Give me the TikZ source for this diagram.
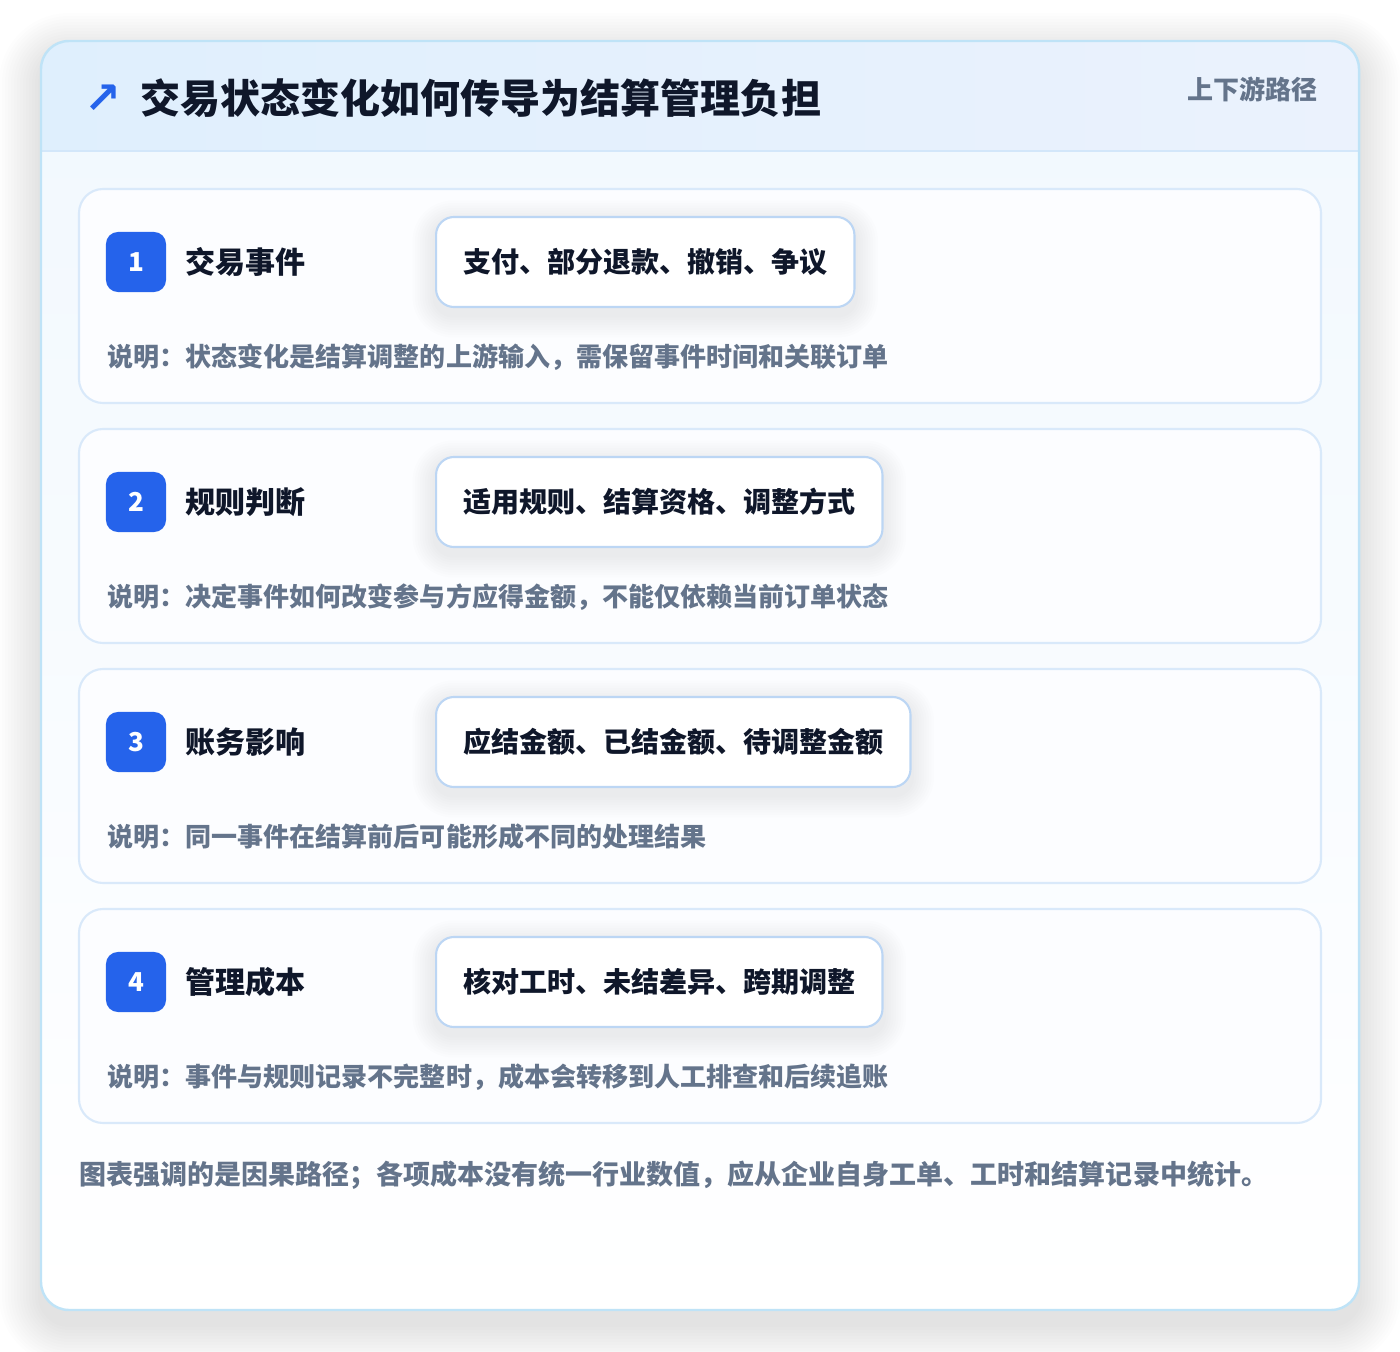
\documentclass[tikz,border=0pt]{standalone}
\usepackage{fontspec}
\setmainfont{Noto Sans CJK SC}
\newfontfamily\symfont{DejaVu Sans}
\usetikzlibrary{positioning}

\definecolor{pagebg}{HTML}{FFFFFF}
\definecolor{outerline}{HTML}{BFE3F7}
\definecolor{bodytop}{HTML}{F1F8FE}
\definecolor{headleft}{HTML}{DFEFFD}
\definecolor{headright}{HTML}{EBF2FD}
\definecolor{headline}{HTML}{D3E7FA}
\definecolor{cardline}{HTML}{D9E9FA}
\definecolor{cardfill}{HTML}{FCFDFF}
\definecolor{pillline}{HTML}{BCD6F4}
\definecolor{badgeblue}{HTML}{2563EB}
\definecolor{ink}{HTML}{0F172A}
\definecolor{slate}{HTML}{64748B}

\pgfdeclarelayer{back}
\pgfdeclarelayer{shade}
\pgfsetlayers{back,shade,main}

% weicher Schatten unter einer Pille
\newcommand\pillshadow[1]{%
	\foreach \k in {1,...,9}
		\fill[black, opacity=0.006, rounded corners=0.18cm+\k*0.025cm]
			([shift={(-\k*2.5,-\k*2.5+7)}]#1.north west) rectangle ([shift={(\k*2.5,\k*2.5+7)}]#1.south east);
}

\begin{document}
\begin{tikzpicture}[x=0.01cm,y=-0.01cm,
	stepcard/.style={draw=cardline, line width=0.6pt, fill=cardfill, rounded corners=0.24cm},
	badge/.style={fill=badgeblue, rounded corners=0.12cm, minimum size=0.6cm, inner sep=0pt,
		text=white, font=\bfseries\fontsize{7.4}{9}\selectfont},
	steptitle/.style={anchor=west, inner sep=0pt, text=ink, font=\bfseries\fontsize{8.54}{10}\selectfont},
	pill/.style={draw=pillline, line width=0.6pt, fill=white, rounded corners=0.18cm,
		minimum height=0.9cm, inner xsep=0.27cm, inner ysep=0pt, anchor=west, text=ink,
		font=\bfseries\fontsize{7.97}{9}\selectfont},
	note/.style={anchor=west, inner sep=0pt, text=slate, font=\bfseries\fontsize{7.4}{9}\selectfont}]
	
	\useasboundingbox (0,0) rectangle (1400,1352);
	
	\begin{pgfonlayer}{back}
		% Hintergrund und Schatten der Karte
		\fill[pagebg] (0,0) rectangle (1400,1352);
		\foreach \k in {1,...,14}
			\fill[black, opacity=0.0065, rounded corners=0.28cm+\k*0.03cm]
				(41-\k*3,41-\k*3+14) rectangle (1359+\k*3,1310+\k*3+14);
		\fill[top color=bodytop, bottom color=white, rounded corners=0.28cm] (41,41) rectangle (1359,1310);
		
		% Kopfzeile
		\begin{scope}
			\clip[rounded corners=0.28cm] (41,41) rectangle (1359,1310); % Karte
			\fill[left color=headleft, right color=headright] (41,41) rectangle (1359,151);
		\end{scope}
		\draw[headline, line width=0.6pt] (41,151) -- (1359,151);
		\draw[outerline, line width=0.7pt, rounded corners=0.28cm] (41,41) rectangle (1359,1310);
		
		% Schrittkarten
		\draw[stepcard] (79,189) rectangle (1321,403);
		\draw[stepcard] (79,429) rectangle (1321,643);
		\draw[stepcard] (79,669) rectangle (1321,883);
		\draw[stepcard] (79,909) rectangle (1321,1123);
	\end{pgfonlayer}
	
	\node[anchor=west, inner sep=0pt, text=ink, font=\bfseries\fontsize{11.38}{13}\selectfont] (title) at (140,98)
		{交易状态变化如何传导为结算管理负担};
	\node[text=badgeblue, inner sep=0pt, font=\symfont\bfseries\fontsize{12.5}{14}\selectfont] (icon) at (103,99) {↗};
	\node[anchor=east, inner sep=0pt, text=slate, font=\bfseries\fontsize{7.4}{9}\selectfont] (tag) at (1318,89) {上下游路径};
	
	% Schritt 1
	\node[badge] (b1) at (136,262) {1};
	\node[steptitle, right=0.18cm of b1] (t1) {交易事件};
	\node[pill] (p1) at (435,262) {支付、部分退款、撤销、争议};
	\node[note] (n1) at (107,357) {说明：状态变化是结算调整的上游输入，需保留事件时间和关联订单};
	
	% Schritt 2
	\node[badge] (b2) at (136,502) {2};
	\node[steptitle, right=0.18cm of b2] (t2) {规则判断};
	\node[pill] (p2) at (435,502) {适用规则、结算资格、调整方式};
	\node[note] (n2) at (107,597) {说明：决定事件如何改变参与方应得金额，不能仅依赖当前订单状态};
	
	% Schritt 3
	\node[badge] (b3) at (136,742) {3};
	\node[steptitle, right=0.18cm of b3] (t3) {账务影响};
	\node[pill] (p3) at (435,742) {应结金额、已结金额、待调整金额};
	\node[note] (n3) at (107,837) {说明：同一事件在结算前后可能形成不同的处理结果};
	
	% Schritt 4
	\node[badge] (b4) at (136,982) {4};
	\node[steptitle, right=0.18cm of b4] (t4) {管理成本};
	\node[pill] (p4) at (435,982) {核对工时、未结差异、跨期调整};
	\node[note] (n4) at (107,1077) {说明：事件与规则记录不完整时，成本会转移到人工排查和后续追账};
	
	% Fusszeile
	\node[note, font=\bfseries\fontsize{7.68}{9}\selectfont] (foot) at (79,1175)
		{图表强调的是因果路径；各项成本没有统一行业数值，应从企业自身工单、工时和结算记录中统计。};
	
	\begin{pgfonlayer}{shade}
		\pillshadow{p1}
		\pillshadow{p2}
		\pillshadow{p3}
		\pillshadow{p4}
	\end{pgfonlayer}
	
\end{tikzpicture}
\end{document}
